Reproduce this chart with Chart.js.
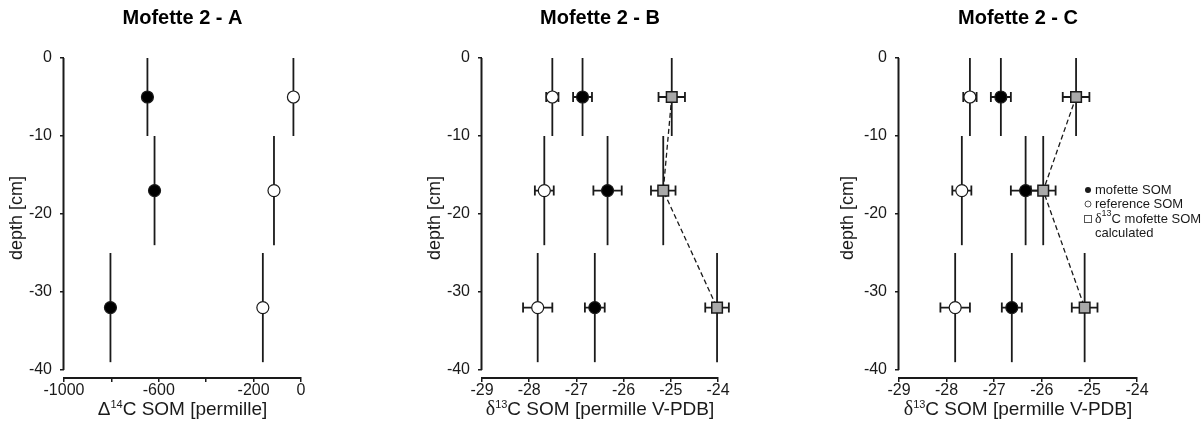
<!DOCTYPE html>
<html>
<head>
<meta charset="utf-8">
<script src="https://cdn.jsdelivr.net/npm/chart.js@4.4.1/dist/chart.umd.min.js"></script>
<style>
  html, body { margin: 0; padding: 0; background: #fff; }
  #wrap { position: relative; width: 1204px; height: 430px; }
  canvas { position: absolute; top: 0; }
</style>
</head>
<body>
<div id="wrap">
  <canvas id="chartA" width="400" height="430" style="left:0"></canvas>
  <canvas id="chartB" width="420" height="430" style="left:400px"></canvas>
  <canvas id="chartC" width="384" height="430" style="left:820px"></canvas>
</div>
<script>
// sample depths [cm] and the depth interval each sample covers
const depths = [-5, -17, -32];
const depthTop = [0, -10, -25];
const depthBottom = [-10, -24, -39];
const depthTicks = [0, -10, -20, -30, -40];

// Mofette 2 - A : Delta14C SOM [permille]
const mofetteA = [-648, -618, -804];
const referenceA = [-32, -114, -161];
const ticksA = [-1000, -800, -600, -400, -200, 0];
const labelsA = [-1000, -600, -200, 0];

// Mofette 2 - B : delta13C SOM [permille V-PDB]
const mofetteB = [-26.87, -26.34, -26.61];
const mofetteBErr = [0.2, 0.3, 0.21];
const referenceB = [-27.51, -27.68, -27.82];
const referenceBErr = [0.13, 0.2, 0.31];
const calculatedB = [-24.98, -25.16, -24.02];
const calculatedBErr = [0.28, 0.26, 0.25];

// Mofette 2 - C
const mofetteC = [-26.86, -26.34, -26.63];
const mofetteCErr = [0.21, 0.31, 0.21];
const referenceC = [-27.51, -27.68, -27.82];
const referenceCErr = [0.14, 0.2, 0.31];
const calculatedC = [-25.28, -25.97, -25.1];
const calculatedCErr = [0.28, 0.26, 0.27];

const ticksD13 = [-29, -28, -27, -26, -25, -24];

const ink = '#1a1a1a';
const sans = '"Liberation Sans", Arial, sans-serif';
Chart.defaults.font.family = sans;
Chart.defaults.color = ink;

function points(xs) {
  return xs.map((x, i) => ({ x: x, y: depths[i] }));
}

// depth range (vertical) and x uncertainty (horizontal, with caps)
const errorBars = {
  id: 'errorBars',
  beforeDatasetsDraw(chart) {
    const ctx = chart.ctx;
    const xs = chart.scales.x, ys = chart.scales.y;
    ctx.save();
    ctx.strokeStyle = ink;
    ctx.lineWidth = 1.8;
    chart.data.datasets.forEach(ds => {
      ds.data.forEach((p, i) => {
        const px = xs.getPixelForValue(p.x);
        ctx.beginPath();
        ctx.moveTo(px, ys.getPixelForValue(depthTop[i]));
        ctx.lineTo(px, ys.getPixelForValue(depthBottom[i]));
        ctx.stroke();
        if (ds.xErr) {
          const py = ys.getPixelForValue(p.y);
          const l = xs.getPixelForValue(p.x - ds.xErr[i]);
          const r = xs.getPixelForValue(p.x + ds.xErr[i]);
          ctx.beginPath();
          ctx.moveTo(l, py); ctx.lineTo(r, py);
          ctx.moveTo(l, py - 5); ctx.lineTo(l, py + 5);
          ctx.moveTo(r, py - 5); ctx.lineTo(r, py + 5);
          ctx.stroke();
        }
      });
    });
    ctx.restore();
  }
};

// y spine only from 0 to -40, detached from the x axis
const ySpine = {
  id: 'ySpine',
  afterDraw(chart) {
    const ctx = chart.ctx, ys = chart.scales.y;
    const x = chart.chartArea.left - 0.5;
    ctx.save();
    ctx.strokeStyle = ink;
    ctx.lineWidth = 2;
    ctx.beginPath();
    ctx.moveTo(x, ys.getPixelForValue(0));
    ctx.lineTo(x, ys.getPixelForValue(-40));
    ctx.stroke();
    ctx.restore();
  }
};

// x axis title with superscript isotope mass
const xTitle = {
  id: 'xTitle',
  afterDraw(chart, args, opts) {
    const ctx = chart.ctx, a = chart.chartArea;
    const big = '19px ' + sans;
    const small = '11px ' + sans;
    const sym = opts.serif ? '20px "Liberation Serif", serif' : big;
    ctx.save();
    ctx.fillStyle = ink;
    ctx.textBaseline = 'alphabetic';
    ctx.textAlign = 'left';
    ctx.font = sym; const w1 = ctx.measureText(opts.symbol).width;
    ctx.font = small; const w2 = ctx.measureText(opts.sup).width;
    ctx.font = big; const w3 = ctx.measureText(opts.rest).width;
    let x = (a.left + a.right) / 2 - (w1 + w2 + w3) / 2;
    const y = 415;
    ctx.font = sym; ctx.fillText(opts.symbol, x, y); x += w1;
    ctx.font = small; ctx.fillText(opts.sup, x, y - 7); x += w2;
    ctx.font = big; ctx.fillText(opts.rest, x, y);
    ctx.restore();
  }
};

const legendBox = {
  id: 'legendBox',
  afterDraw(chart, args, opts) {
    if (!opts.show) return;
    const ctx = chart.ctx;
    const mx = 268, tx = 275;
    const rows = [190, 204, 219, 233];
    ctx.save();
    ctx.font = '13px ' + sans;
    ctx.fillStyle = ink;
    ctx.textBaseline = 'middle';
    ctx.lineWidth = 1;
    // filled circle
    ctx.beginPath(); ctx.arc(mx, rows[0], 3, 0, Math.PI * 2); ctx.fill();
    ctx.fillText('mofette SOM', tx, rows[0]);
    // open circle
    ctx.strokeStyle = '#555';
    ctx.beginPath(); ctx.arc(mx, rows[1], 3, 0, Math.PI * 2); ctx.stroke();
    ctx.fillText('reference SOM', tx, rows[1]);
    // open square
    ctx.strokeRect(mx - 3.5, rows[2] - 3.5, 7, 7);
    ctx.font = '14px "Liberation Serif", serif';
    ctx.fillText('\u03b4', tx, rows[2]);
    let x = tx + ctx.measureText('\u03b4').width;
    ctx.font = '9px ' + sans;
    ctx.fillText('13', x, rows[2] - 5);
    x += ctx.measureText('13').width;
    ctx.font = '13px ' + sans;
    ctx.fillText('C mofette SOM', x, rows[2]);
    ctx.fillText('calculated', tx, rows[3]);
    ctx.restore();
  }
};

function circleSet(label, xs, err, fill) {
  return {
    label: label,
    data: points(xs),
    xErr: err,
    clip: false,
    pointStyle: 'circle',
    pointRadius: 6,
    pointBackgroundColor: fill,
    pointBorderColor: ink,
    pointBorderWidth: 1.2,
    showLine: false
  };
}

function calcSet(xs, err) {
  return {
    label: 'd13C mofette SOM calculated',
    data: points(xs),
    xErr: err,
    clip: false,
    pointStyle: 'rect',
    pointRadius: 7.5,
    pointBackgroundColor: '#a9a9a9',
    pointBorderColor: ink,
    pointBorderWidth: 1.5,
    showLine: true,
    borderColor: ink,
    borderWidth: 1.3,
    borderDash: [5, 3]
  };
}

function makePanel(id, cfg) {
  return new Chart(document.getElementById(id), {
    type: 'scatter',
    data: { datasets: cfg.datasets },
    plugins: [errorBars, ySpine, xTitle, legendBox],
    options: {
      responsive: false,
      animation: false,
      layout: { padding: { left: cfg.padLeft, right: cfg.padRight, top: 0, bottom: 0 } },
      plugins: {
        legend: { display: false },
        tooltip: { enabled: false },
        title: {
          display: true,
          text: cfg.title,
          fullSize: false,
          color: '#000',
          font: { size: 20, weight: 'bold' },
          padding: { top: 6, bottom: 28 }
        },
        xTitle: cfg.xTitle,
        legendBox: { show: !!cfg.legend }
      },
      scales: {
        x: {
          type: 'linear',
          min: cfg.xMin,
          max: cfg.xMax,
          afterBuildTicks: s => { s.ticks = cfg.xTicks.map(v => ({ value: v })); },
          afterFit: s => { s.height = 52; },
          ticks: {
            autoSkip: false,
            maxRotation: 0,
            padding: -1,
            font: { size: 16 },
            color: ink,
            callback: v => cfg.xLabels.includes(v) ? String(v) : ''
          },
          grid: { drawOnChartArea: false, tickLength: 4, color: ink, lineWidth: 1.5 },
          border: { display: true, color: ink, width: 2 }
        },
        y: {
          type: 'linear',
          min: -41.03,
          max: 0,
          afterBuildTicks: s => { s.ticks = depthTicks.map(v => ({ value: v })); },
          afterFit: s => { s.width = cfg.yWidth; },
          ticks: { padding: 8, font: { size: 16 }, color: ink },
          grid: { drawOnChartArea: false, tickLength: 4, color: ink, lineWidth: 1.5 },
          border: { display: false },
          title: { display: true, text: 'depth [cm]', color: ink, font: { size: 18 }, padding: { top: 4, bottom: 4 } }
        }
      }
    }
  });
}

makePanel('chartA', {
  title: 'Mofette 2 - A',
  padLeft: 2, padRight: 99, yWidth: 62,
  xMin: -1000, xMax: 0, xTicks: ticksA, xLabels: labelsA,
  xTitle: { symbol: '\u0394', sup: '14', rest: 'C SOM [permille]', serif: false },
  datasets: [
    circleSet('mofette SOM', mofetteA, null, '#000'),
    circleSet('reference SOM', referenceA, null, '#fff')
  ]
});

makePanel('chartB', {
  title: 'Mofette 2 - B',
  padLeft: 20, padRight: 102, yWidth: 62,
  xMin: -29, xMax: -24, xTicks: ticksD13, xLabels: ticksD13,
  xTitle: { symbol: '\u03b4', sup: '13', rest: 'C SOM [permille V-PDB]', serif: true },
  datasets: [
    calcSet(calculatedB, calculatedBErr),
    circleSet('mofette SOM', mofetteB, mofetteBErr, '#000'),
    circleSet('reference SOM', referenceB, referenceBErr, '#fff')
  ]
});

makePanel('chartC', {
  title: 'Mofette 2 - C',
  padLeft: 13, padRight: 67, yWidth: 66, legend: true,
  xMin: -29, xMax: -24, xTicks: ticksD13, xLabels: ticksD13,
  xTitle: { symbol: '\u03b4', sup: '13', rest: 'C SOM [permille V-PDB]', serif: true },
  datasets: [
    calcSet(calculatedC, calculatedCErr),
    circleSet('mofette SOM', mofetteC, mofetteCErr, '#000'),
    circleSet('reference SOM', referenceC, referenceCErr, '#fff')
  ]
});
</script>
</body>
</html>
